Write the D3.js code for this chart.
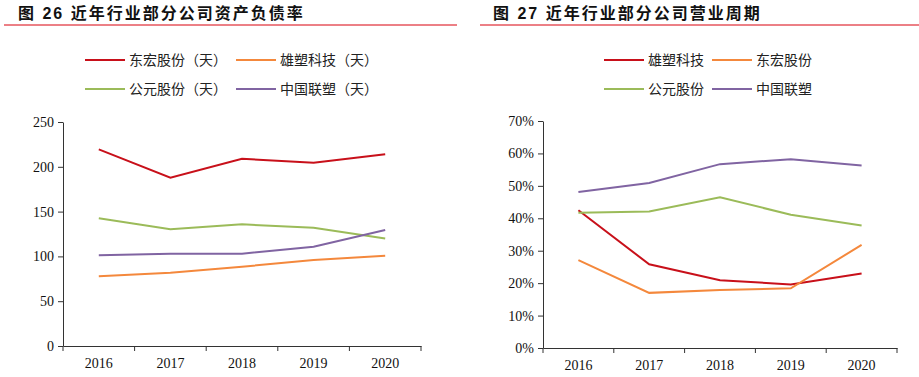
<!DOCTYPE html>
<html>
<head>
<meta charset="utf-8">
<script src="https://cdn.jsdelivr.net/npm/d3@7"></script>
<style>
  body { margin: 0; background: #fff; }
  .title { font-family: "Liberation Sans", "Noto Sans CJK SC", sans-serif; font-weight: bold; font-size: 16px; fill: #111; letter-spacing: 2px; }
  .legend text { font-family: "Noto Sans CJK SC", sans-serif; font-size: 14px; fill: #222; }
  .axis text { font-family: "Liberation Serif", "Times New Roman", serif; font-size: 14px; fill: #111; }
  .axis path, .axis line { stroke: #333; }
</style>
</head>
<body>
<div id="chart"></div>
<script>
var years = ["2016", "2017", "2018", "2019", "2020"];

// 图26 资产负债率（天）
var leftNames = ["东宏股份（天）", "雄塑科技（天）", "公元股份（天）", "中国联塑（天）"];
var leftDonghong = [219.5, 187.8, 209, 204.6, 214];
var leftXiongsu = [77.8, 81.8, 88.5, 96, 100.8];
var leftGongyuan = [142.5, 130.2, 135.8, 132, 120];
var leftLiansu = [101.2, 103, 103, 110.8, 129.5];
var leftTicks = [0, 50, 100, 150, 200, 250];

// 图27 营业周期
var rightNames = ["雄塑科技", "东宏股份", "公元股份", "中国联塑"];
var rightXiongsu = [0.425, 0.258, 0.209, 0.196, 0.230];
var rightDonghong = [0.271, 0.170, 0.179, 0.184, 0.318];
var rightGongyuan = [0.417, 0.421, 0.465, 0.411, 0.378];
var rightLiansu = [0.481, 0.509, 0.567, 0.582, 0.563];
var rightTicks = [0, 0.1, 0.2, 0.3, 0.4, 0.5, 0.6, 0.7];

var red = "#c8101a", orange = "#f4883c", green = "#9bbb59", purple = "#8064a2";

var svg = d3.select("#chart").append("svg")
    .attr("width", 919)
    .attr("height", 377);

function drawPanel(opt) {
    var g = svg.append("g");

    g.append("text")
        .attr("class", "title")
        .attr("x", opt.titleX)
        .attr("y", 19)
        .text(opt.title);

    g.append("line")
        .attr("x1", opt.ruleX1).attr("x2", opt.ruleX2)
        .attr("y1", 25).attr("y2", 25)
        .attr("stroke", "#d9000d")
        .attr("stroke-width", 1);

    var x = d3.scaleBand().domain(years).range([opt.left, opt.right]);
    var y = d3.scaleLinear().domain([opt.ticks[0], opt.ticks[opt.ticks.length - 1]])
        .range([opt.bottom, opt.top]);

    var yAxis = g.append("g")
        .attr("class", "axis")
        .attr("transform", "translate(" + opt.left + ",0)")
        .call(d3.axisLeft(y).tickValues(opt.ticks).tickSize(5).tickSizeOuter(0).tickFormat(opt.fmt));
    yAxis.selectAll("text").attr("dx", "-1");

    var xAxis = g.append("g")
        .attr("class", "axis")
        .attr("transform", "translate(0," + opt.bottom + ")")
        .call(d3.axisBottom(x).tickSize(0).tickSizeOuter(0));
    xAxis.selectAll("text").attr("dy", "1.35em");

    // tick marks at band boundaries
    g.selectAll(".xtick").data(d3.range(years.length + 1)).enter()
        .append("line")
        .attr("x1", function (i) { return opt.left + i * x.step(); })
        .attr("x2", function (i) { return opt.left + i * x.step(); })
        .attr("y1", opt.bottom)
        .attr("y2", opt.bottom + 5)
        .attr("stroke", "#333");

    var line = d3.line()
        .x(function (d, i) { return x(years[i]) + x.bandwidth() / 2; })
        .y(function (d) { return y(d); });

    opt.series.forEach(function (s) {
        g.append("path")
            .datum(s.values)
            .attr("fill", "none")
            .attr("stroke", s.color)
            .attr("stroke-width", 2)
            .attr("d", line);
    });

    var leg = g.append("g").attr("class", "legend");
    opt.series.forEach(function (s, i) {
        var lx = opt.legX[i % 2], ly = i < 2 ? 60 : 89;
        leg.append("line")
            .attr("x1", lx).attr("x2", lx + 40)
            .attr("y1", ly).attr("y2", ly)
            .attr("stroke", s.color)
            .attr("stroke-width", 2);
        leg.append("text")
            .attr("x", lx + 44)
            .attr("y", ly)
            .attr("dy", "0.36em")
            .text(s.name);
    });
}

drawPanel({
    title: "图 26 近年行业部分公司资产负债率",
    titleX: 18, ruleX1: 4, ruleX2: 457,
    left: 63, right: 421, top: 122, bottom: 346,
    ticks: leftTicks, fmt: d3.format("d"),
    legX: [85, 236],
    series: [
        { name: leftNames[0], values: leftDonghong, color: red },
        { name: leftNames[1], values: leftXiongsu, color: orange },
        { name: leftNames[2], values: leftGongyuan, color: green },
        { name: leftNames[3], values: leftLiansu, color: purple }
    ]
});

drawPanel({
    title: "图 27 近年行业部分公司营业周期",
    titleX: 493, ruleX1: 480, ruleX2: 919,
    left: 543, right: 897, top: 121, bottom: 348,
    ticks: rightTicks, fmt: d3.format(".0%"),
    legX: [604, 712],
    series: [
        { name: rightNames[0], values: rightXiongsu, color: red },
        { name: rightNames[1], values: rightDonghong, color: orange },
        { name: rightNames[2], values: rightGongyuan, color: green },
        { name: rightNames[3], values: rightLiansu, color: purple }
    ]
});
</script>
</body>
</html>
